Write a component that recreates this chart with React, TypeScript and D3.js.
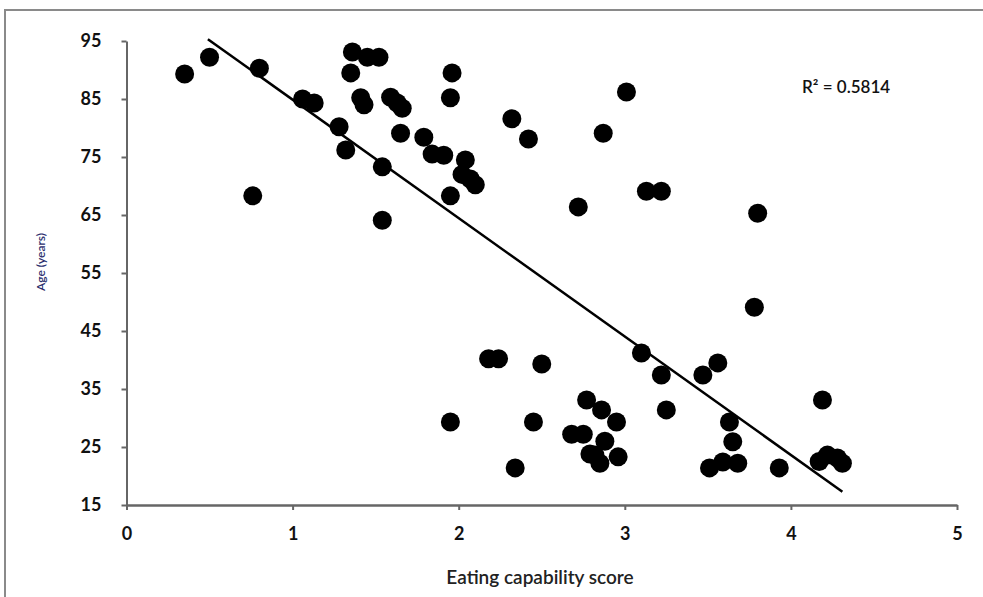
import React, { useEffect, useRef } from 'react';
import * as d3 from 'd3';

// eating capability score (x) and age in years (y)
const scores = [
  0.35, 0.5, 0.8, 0.76, 1.06, 1.13, 1.28, 1.32, 1.36, 1.45, 1.52, 1.35, 1.41, 1.43,
  1.54, 1.54, 1.59, 1.63, 1.66, 1.65, 1.79, 1.84, 1.91, 1.96, 1.95, 1.95, 2.04, 2.02,
  2.07, 2.1, 2.32, 2.42, 2.87, 3.01, 2.72, 3.13, 3.22, 3.8, 3.78, 2.18, 2.24, 2.5,
  1.95, 2.45, 2.34, 2.77, 2.86, 2.95, 2.68, 2.75, 2.88, 2.82, 2.85, 2.96, 2.79, 3.1,
  3.22, 3.25, 3.47, 3.56, 3.63, 3.65, 3.51, 3.59, 3.68, 3.93, 4.19, 4.17, 4.22, 4.28,
  4.31,
];
const ages = [
  89.3, 92.2, 90.3, 68.3, 85.0, 84.3, 80.2, 76.2, 93.1, 92.2, 92.2, 89.5, 85.2, 84.0,
  73.3, 64.1, 85.3, 84.3, 83.4, 79.1, 78.4, 75.5, 75.3, 89.5, 85.2, 68.3, 74.5, 72.0,
  71.2, 70.2, 81.6, 78.1, 79.1, 86.2, 66.4, 69.1, 69.1, 65.3, 49.1, 40.2, 40.2, 39.3,
  29.3, 29.3, 21.4, 33.1, 31.4, 29.3, 27.2, 27.2, 26.0, 23.6, 22.2, 23.3, 23.8, 41.2,
  37.4, 31.4, 37.4, 39.5, 29.3, 25.9, 21.4, 22.4, 22.2, 21.4, 33.1, 22.5, 23.6, 23.1,
  22.2,
];

// linear trend line end points
const trendX = [0.49, 4.31];
const trendY = [95.3, 17.3];

const xTicks = [0, 1, 2, 3, 4, 5];
const yTicks = [15, 25, 35, 45, 55, 65, 75, 85, 95];
const rSquared = 'R² = 0.5814';

export default function App() {
  const svgRef = useRef(null);
  const W = 983;
  const H = 597;

  useEffect(() => {
    d3.select(svgRef.current).selectAll('*').remove();
    const svg = d3.select(svgRef.current);

    const x = d3.scaleLinear().domain([0, 5]).range([126.5, 957]);
    const y = d3.scaleLinear().domain([15, 95]).range([505, 41]);
    const font = 'Lato, "Open Sans", sans-serif';

    // outer frame
    svg.append('rect')
      .attr('x', 5).attr('y', 10)
      .attr('width', W + 10).attr('height', H + 10)
      .attr('fill', '#fff')
      .attr('stroke', '#8a8a8a')
      .attr('stroke-width', 2);

    // Y axis
    const yAxis = svg.append('g')
      .attr('transform', `translate(${x(0)},0)`)
      .call(d3.axisLeft(y).tickValues(yTicks).tickSize(5).tickSizeOuter(0));
    yAxis.select('.domain').attr('stroke', '#666').attr('stroke-width', 2);
    yAxis.selectAll('.tick line').attr('stroke', '#666').attr('stroke-width', 2);
    yAxis.selectAll('.tick text')
      .attr('x', -25)
      .attr('font-family', font)
      .attr('font-size', '18px')
      .attr('font-weight', 700)
      .attr('fill', '#111');

    // X axis
    const xAxis = svg.append('g')
      .attr('transform', `translate(0,${y(15)})`)
      .call(d3.axisBottom(x).tickValues(xTicks).tickFormat(d3.format('d')).tickSize(5).tickSizeOuter(0));
    xAxis.select('.domain').attr('stroke', '#666').attr('stroke-width', 2.5);
    xAxis.selectAll('.tick line').attr('stroke', '#666').attr('stroke-width', 2);
    xAxis.selectAll('.tick text')
      .attr('y', 22)
      .attr('font-family', font)
      .attr('font-size', '18px')
      .attr('font-weight', 700)
      .attr('fill', '#111');

    // points
    svg.append('g')
      .selectAll('circle')
      .data(scores)
      .enter()
      .append('circle')
      .attr('cx', (d) => x(d))
      .attr('cy', (d, i) => y(ages[i]))
      .attr('r', 9.5)
      .attr('fill', '#000');

    // trend line
    const line = d3.line()
      .x((d) => x(d[0]))
      .y((d) => y(d[1]));
    svg.append('path')
      .datum(trendX.map((v, i) => [v, trendY[i]]))
      .attr('d', line)
      .attr('stroke', '#000')
      .attr('stroke-width', 2.5)
      .attr('fill', 'none');

    // R squared label
    svg.append('text')
      .attr('x', 802)
      .attr('y', 93)
      .attr('font-family', font)
      .attr('font-size', '17px')
      .attr('font-weight', 600)
      .attr('fill', '#111')
      .text(rSquared);

    // axis titles
    svg.append('text')
      .attr('x', 540)
      .attr('y', 584)
      .attr('text-anchor', 'middle')
      .attr('font-family', font)
      .attr('font-size', '19px')
      .attr('font-weight', 600)
      .attr('fill', '#222')
      .text('Eating capability score');

    svg.append('text')
      .attr('transform', 'translate(45,262) rotate(-90)')
      .attr('text-anchor', 'middle')
      .attr('font-family', font)
      .attr('font-size', '12px')
      .attr('font-weight', 600)
      .attr('fill', '#2b2f6e')
      .text('Age (years)');
  }, []);

  return (
    <div>
      <svg
        ref={svgRef}
        width={W}
        height={H}
        style={{ position: 'absolute', left: 0, top: 0, background: '#fff' }}
      />
    </div>
  );
}
